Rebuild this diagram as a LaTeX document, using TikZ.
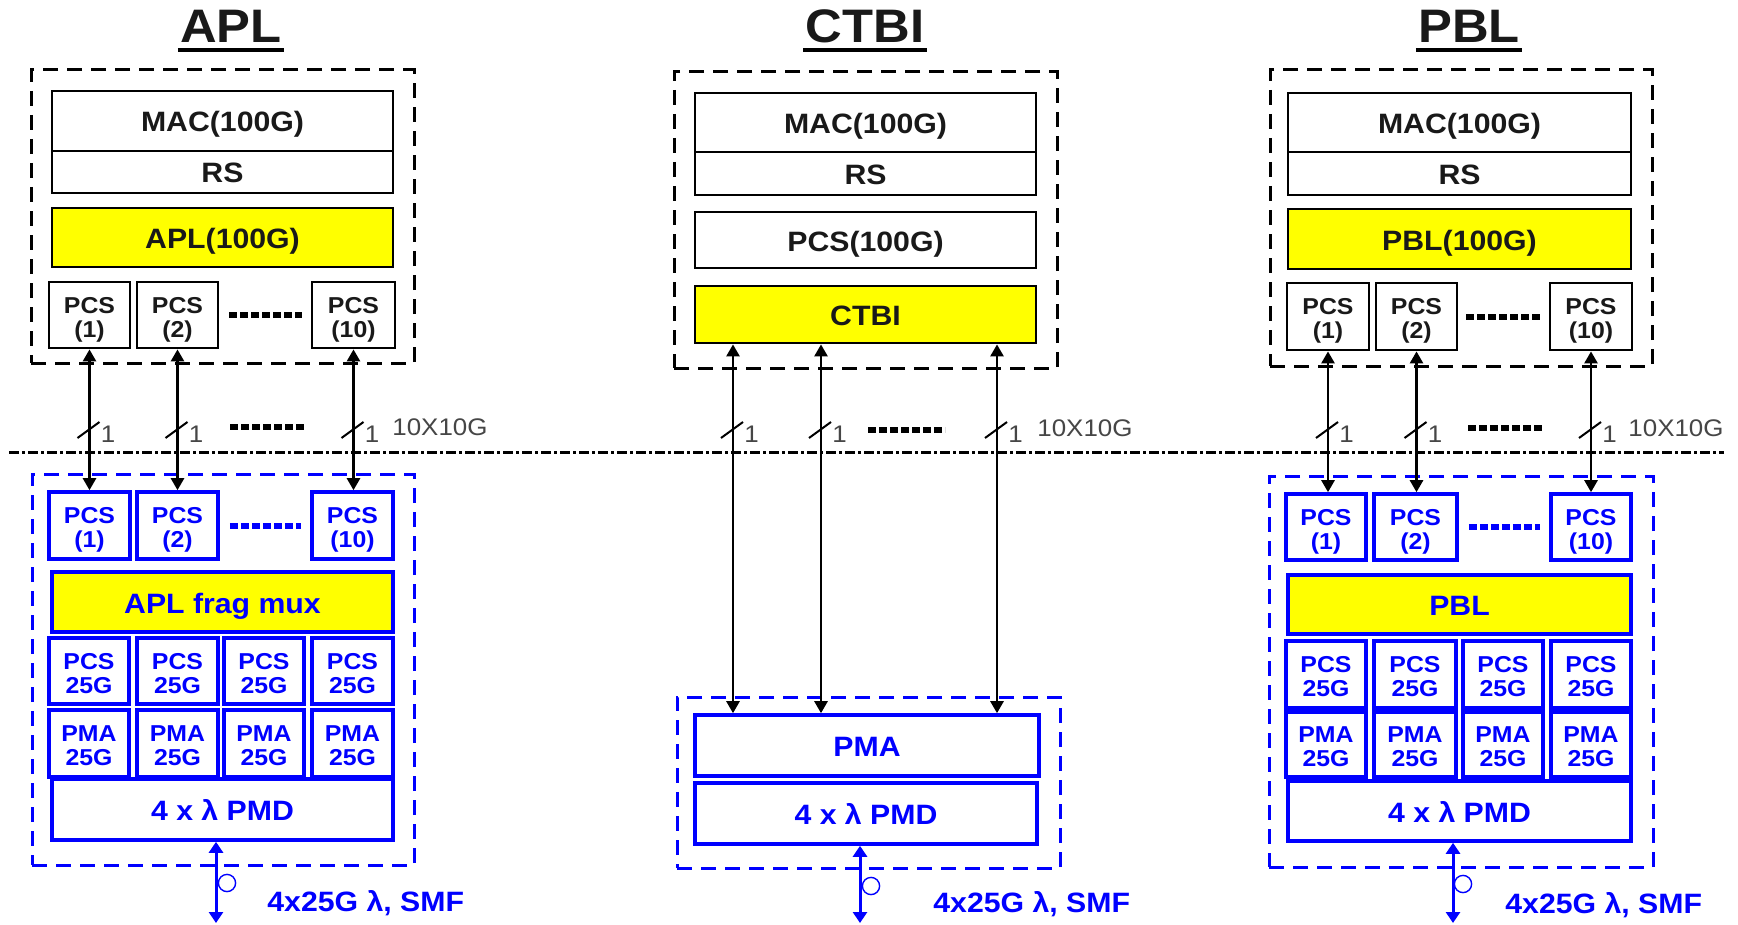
\documentclass[tikz,border=0pt]{standalone}
\usepackage{fontspec}
\setmainfont[FakeStretch=1.08]{Liberation Sans}
\usetikzlibrary{arrows.meta,calc}
\definecolor{ybox}{RGB}{255,255,0}
\definecolor{bblue}{RGB}{0,0,255}
\definecolor{txtgray}{RGB}{70,70,70}
\definecolor{txtblk}{RGB}{25,25,25}
\newcommand\bx[7]{\node[#6, minimum width={((#4)-(#2))*0.5pt}, minimum height={((#5)-(#3))*0.5pt}] (#1) at ({((#2)+(#4))/2},{((#3)+(#5))/2}) {#7};}
\tikzset{
  kbase/.style={draw=black, line width=1.4pt, inner sep=0pt, text=txtblk, align=center},
  bbase/.style={draw=bblue, line width=1.8pt, inner sep=0pt, text=bblue, align=center},
  one/.style={font=\bfseries\fontsize{14}{16}\selectfont, text height=11pt, text depth=0pt},
  two/.style={font=\bfseries\fontsize{11.5}{12}\selectfont, text height=22.3pt, text depth=0pt},
  kbox/.style={kbase, one},
  ksmall/.style={kbase, two},
  bbox/.style={bbase, one},
  bsmall/.style={bbase, two},
  yfill/.style={fill=ybox},
  outerk/.style={draw=black, line width=1.5pt, dash pattern=on 7.5pt off 4.5pt},
  outerb/.style={draw=bblue, line width=1.5pt, dash pattern=on 7.5pt off 4.5pt},
  title/.style={font=\bfseries\fontsize{23.5}{26}\selectfont, inner sep=0pt, text=txtblk},
  dots/.style={line width=3pt, dash pattern=on 4pt off 1.5pt},
  link/.style={line width=1.3pt, {Triangle[length=6pt,width=6.5pt]}-{Triangle[length=6pt,width=6.5pt]}},
  fiber/.style={draw=bblue, line width=1.5pt, {Triangle[length=5.5pt,width=7pt]}-{Triangle[length=5.5pt,width=7pt]}},
  slash/.style={line width=1pt},
  lbl/.style={text=txtgray, font=\fontsize{12}{14}\selectfont, inner sep=0pt, anchor=west},
  flbl/.style={text=bblue, font=\bfseries\fontsize{14}{16}\selectfont, inner sep=0pt, anchor=west},
  sepline/.style={line width=1.5pt, dash pattern=on 5pt off 1.5pt on 1.5pt off 1.5pt},
  ring/.style={draw=bblue, line width=0.7pt},
  uline/.style={line width=2pt}
}
\begin{document}
\begin{tikzpicture}[x=0.5pt,y=-0.5pt]
\fill[white] (0,0) rectangle (1738,925);
\useasboundingbox (0,0) rectangle (1738,925);

% ---------------- titles
\node[title] (t1) at (231,26) {APL};
\node[title] (t2) at (865,26) {CTBI};
\node[title] (t3) at (1469,26) {PBL};
\foreach \t in {t1,t2,t3}{
  \draw[uline] ([xshift=-1pt,yshift=-3.5pt]\t.south west) -- ([xshift=1pt,yshift=-3.5pt]\t.south east);
}

% ---------------- separation line
\coordinate (sepL) at (9,452);
\coordinate (sepR) at (1724,452);
\draw[sepline] (sepL) -- (sepR);

% ================= APL column
\bx{o1}{31}{70}{414}{363}{outerk}{}
\bx{mac1}{52}{91}{393}{151}{kbox}{MAC(100G)}
\bx{rs1}{52}{151}{393}{193}{kbox}{RS}
\bx{apl1}{52}{208}{393}{267}{kbox,yfill}{APL(100G)}
\bx{pa1}{49}{282}{130}{348}{ksmall}{PCS\\(1)}
\bx{pa2}{137}{282}{218}{348}{ksmall}{PCS\\(2)}
\bx{pa10}{312}{282}{395}{348}{ksmall}{PCS\\(10)}
\draw[dots, shorten <=5pt, shorten >=4.5pt] (pa2.east) -- (pa10.west);

\bx{ob1}{32}{474}{414}{865}{outerb}{}
\bx{qa1}{49}{492}{130}{559}{bsmall}{PCS\\(1)}
\bx{qa2}{137}{492}{218}{559}{bsmall}{PCS\\(2)}
\bx{qa10}{312}{492}{393}{559}{bsmall}{PCS\\(10)}
\draw[dots, draw=bblue, shorten <=5pt, shorten >=4.5pt] (qa2.east) -- (qa10.west);
\bx{mux1}{52}{572}{393}{632}{bbox,yfill}{APL frag mux}
\foreach \i/\a/\b in {1/49/129,2/137/218,3/224/304,4/312/393}{
  \bx{ca\i}{\a}{638}{\b}{704}{bsmall}{PCS\\25G}
  \bx{ma\i}{\a}{710}{\b}{777}{bsmall}{PMA\\25G}
}
\bx{pmd1}{52}{779}{393}{840}{bbox}{4 x λ PMD}

\foreach \p/\q in {pa1/qa1,pa2/qa2,pa10/qa10}{
  \draw[link] (\p.south) -- (\p.south |- \q.north);
  \coordinate (s\p) at (\p.south |- sepL);
  \draw[slash] ($(s\p)+(-12,-14)$) -- ($(s\p)+(10,-30)$);
  \node[lbl] at ($(s\p)+(11,-18)$) {1};
}
\coordinate (da1) at (230,427);
\coordinate (db1) at (305,427);
\draw[dots] (da1) -- (db1);
\node[lbl] (g1) at (392,427) {10X10G};

\coordinate (f1) at (216,923);
\draw[fiber] (pmd1.south -| f1) -- (f1);
\draw[ring] (227,883) circle[radius=4.3pt];
\node[flbl] (fl1) at (267,903) {4x25G λ, SMF};

% ================= CTBI column
\bx{o2}{674}{72}{1057}{368}{outerk}{}
\bx{mac2}{695}{93}{1036}{152}{kbox}{MAC(100G)}
\bx{rs2}{695}{152}{1036}{195}{kbox}{RS}
\bx{pcs2}{695}{212}{1036}{268}{kbox}{PCS(100G)}
\bx{ctbi}{695}{286}{1036}{343}{kbox,yfill}{CTBI}

\bx{ob2}{677}{697}{1060}{868}{outerb}{}
\bx{pma2}{695}{715}{1039}{776}{bbox}{PMA}
\bx{pmd2}{695}{783}{1037}{844}{bbox}{4 x λ PMD}

\foreach \n/\x in {c1/733,c2/821,c3/997}{
  \coordinate (\n) at (\x,0);
  \draw[link] (\n |- ctbi.south) -- (\n |- pma2.north);
  \coordinate (s\n) at (\n |- sepL);
  \draw[slash] ($(s\n)+(-12,-14)$) -- ($(s\n)+(10,-30)$);
  \node[lbl] at ($(s\n)+(11,-18)$) {1};
}
\coordinate (da2) at (868,430);
\coordinate (db2) at (945,430);
\draw[dots] (da2) -- (db2);
\node[lbl] (g2) at (1037,428) {10X10G};

\coordinate (f2) at (860,923);
\draw[fiber] (pmd2.south -| f2) -- (f2);
\draw[ring] (871,886) circle[radius=4.3pt];
\node[flbl] (fl2) at (933,904) {4x25G λ, SMF};

% ================= PBL column
\bx{o3}{1270}{70}{1652}{366}{outerk}{}
\bx{mac3}{1288}{93}{1631}{152}{kbox}{MAC(100G)}
\bx{rs3}{1288}{152}{1631}{195}{kbox}{RS}
\bx{pbl3}{1288}{209}{1631}{269}{kbox,yfill}{PBL(100G)}
\bx{pb1}{1287}{283}{1369}{350}{ksmall}{PCS\\(1)}
\bx{pb2}{1376}{283}{1457}{350}{ksmall}{PCS\\(2)}
\bx{pb10}{1550}{283}{1632}{350}{ksmall}{PCS\\(10)}
\draw[dots, shorten <=4pt, shorten >=4pt] (pb2.east) -- (pb10.west);

\bx{ob3}{1269}{476}{1653}{867}{outerb}{}
\bx{qb1}{1286}{494}{1366}{560}{bsmall}{PCS\\(1)}
\bx{qb2}{1374}{494}{1457}{560}{bsmall}{PCS\\(2)}
\bx{qb10}{1551}{494}{1631}{560}{bsmall}{PCS\\(10)}
\draw[dots, draw=bblue, shorten <=5pt, shorten >=4.5pt] (qb2.east) -- (qb10.west);
\bx{pblm}{1288}{575}{1631}{634}{bbox,yfill}{PBL}
\foreach \i/\a/\b in {1/1286/1366,2/1374/1456,3/1463/1543,4/1551/1631}{
  \bx{cb\i}{\a}{641}{\b}{708}{bsmall}{PCS\\25G}
  \bx{mb\i}{\a}{712}{\b}{777}{bsmall}{PMA\\25G}
}
\bx{pmd3}{1288}{781}{1631}{841}{bbox}{4 x λ PMD}

\foreach \p/\q in {pb1/qb1,pb2/qb2,pb10/qb10}{
  \draw[link] (\p.south) -- (\p.south |- \q.north);
  \coordinate (s\p) at (\p.south |- sepL);
  \draw[slash] ($(s\p)+(-12,-14)$) -- ($(s\p)+(10,-30)$);
  \node[lbl] at ($(s\p)+(11,-18)$) {1};
}
\coordinate (da3) at (1468,428);
\coordinate (db3) at (1544,428);
\draw[dots] (da3) -- (db3);
\node[lbl] (g3) at (1628,428) {10X10G};

\coordinate (f3) at (1453,923);
\draw[fiber] (pmd3.south -| f3) -- (f3);
\draw[ring] (1463,884) circle[radius=4.3pt];
\node[flbl] (fl3) at (1505,905) {4x25G λ, SMF};
\end{tikzpicture}
\end{document}
